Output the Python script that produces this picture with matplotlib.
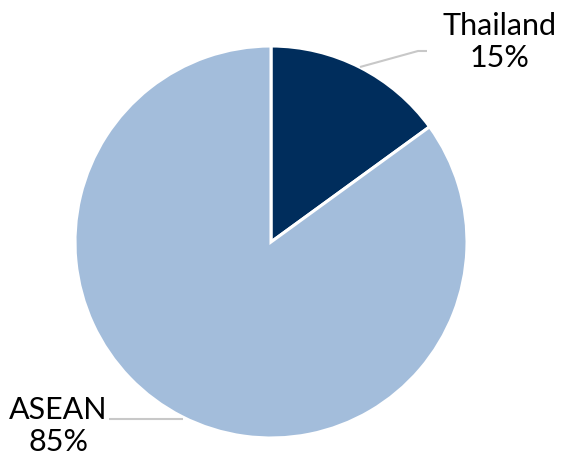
import matplotlib.pyplot as plt

labels = ['Thailand', 'ASEAN']
shares = [15, 85]
colors = ['#002D5C', '#A3BDDB']

W, H = 564, 459
cx, cy, r = 271, 242, 196

plt.rcParams['font.family'] = ['Lato', 'DejaVu Sans']
fig = plt.figure(figsize=(W / 100, H / 100), dpi=100, facecolor='w')
ax = fig.add_axes([(cx - r) / W, (H - cy - r) / H, 2 * r / W, 2 * r / H])
ax.pie(shares, colors=colors, startangle=90, counterclock=False, radius=1,
       wedgeprops=dict(edgecolor='white', linewidth=2.2))
ax.set_xlim(-1, 1)
ax.set_ylim(-1, 1)
ax.set_aspect('auto')
ax.axis('off')


def d(px, py):
    # pixel -> data coords
    return (px - cx) / r, (cy - py) / r


# leader lines
lc = '#C8C8C8'
for pts in ([(360, 67), (418, 51), (427, 51)], [(109, 419), (183, 419)]):
    xs, ys = zip(*[d(*p) for p in pts])
    ax.plot(xs, ys, color=lc, lw=1.5, clip_on=False, solid_capstyle='butt')

tx, ty = d(500, 42)
ax.text(tx, ty, '%s\n%d%%' % (labels[0], shares[0]), ha='center', va='center',
        fontsize=22, linespacing=1.2, clip_on=False)
tx, ty = d(58, 426)
ax.text(tx, ty, '%s\n%d%%' % (labels[1], shares[1]), ha='center', va='center',
        fontsize=22, linespacing=1.2, clip_on=False)

fig.savefig('out.png', dpi=100, facecolor='w')
